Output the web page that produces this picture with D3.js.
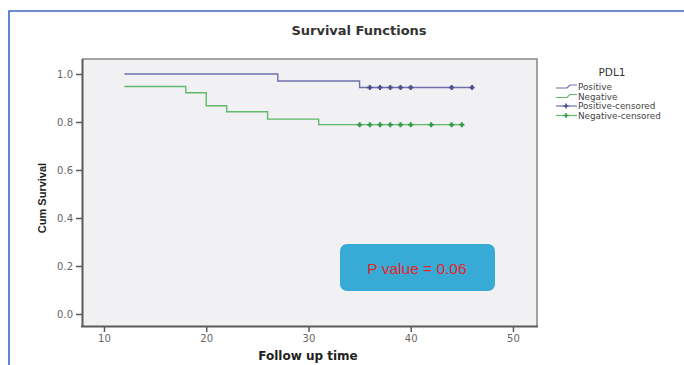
<!DOCTYPE html>
<html><head><meta charset="utf-8">
<script src="https://cdn.jsdelivr.net/npm/d3@7"></script>
<style>body{margin:0;background:#fff;}svg{display:block;font-family:"Liberation Sans",Arial,sans-serif;}</style>
</head><body>
<script>
// ---- data ----
const xTickValues = [10, 20, 30, 40, 50];
const yTickValues = [0, 0.2, 0.4, 0.6, 0.8, 1.0];
const posTimes = [12, 27, 35];
const posSurv = [1.0, 0.971, 0.944];
const posEndTime = 46;
const negTimes = [12, 18, 20, 22, 26, 31];
const negSurv = [0.948, 0.922, 0.868, 0.843, 0.812, 0.789];
const negEndTime = 45;
const posCensored = [36, 37, 38, 39, 40, 44, 46];
const negCensored = [35, 36, 37, 38, 39, 40, 42, 44, 45];
const legendLabels = ["Positive", "Negative", "Positive-censored", "Negative-censored"];
const pValueText = "P value = 0.06";

const W = 684, H = 365;
const posColor = "#6f6fae", negColor = "#62b86a";
const posMark = "#4b4b8c", negMark = "#2f9a48";

const svg = d3.select("body").append("svg").attr("width", W).attr("height", H);

// outer blue frame
svg.append("path").attr("d", `M9,${H+2} L9,11 L${W+2},11`).attr("fill","none")
  .attr("stroke","#3d66c2").attr("stroke-width",1.6);

const x = d3.scaleLinear().domain([7.85, 52.35]).range([82, 537]);
const y = d3.scaleLinear().domain([-0.05, 1.0625]).range([326, 59]);

// plot background
svg.append("rect").attr("x", x.range()[0]).attr("y", y.range()[1])
  .attr("width", x.range()[1]-x.range()[0]).attr("height", y.range()[0]-y.range()[1])
  .attr("fill","#f1f1f3");
// top/right border
svg.append("path").attr("d",`M${x.range()[0]},${y.range()[1]} H${x.range()[1]} V${y.range()[0]}`)
  .attr("fill","none").attr("stroke","#8a8a8a").attr("stroke-width",1.6);

// axes
const xAxis = d3.axisBottom(x).tickValues(xTickValues).tickSize(6).tickSizeOuter(0).tickPadding(3).tickFormat(d3.format("d"));
const gx = svg.append("g").attr("transform",`translate(0,${y.range()[0]})`).call(xAxis);
const yAxis = d3.axisLeft(y).tickValues(yTickValues).tickSize(6).tickSizeOuter(0).tickPadding(3).tickFormat(d3.format(".1f"));
const gy = svg.append("g").attr("transform",`translate(${x.range()[0]},0)`).call(yAxis);
[gx, gy].forEach(g => {
  g.select(".domain").attr("stroke","#5a5a5a").attr("stroke-width",2);
  g.selectAll(".tick line").attr("stroke","#5a5a5a").attr("stroke-width",1.5);
  g.selectAll(".tick text").attr("fill","#666").style("font-size","10px").style("font-family","'DejaVu Sans',sans-serif");
});
gx.select(".domain").attr("d", `M${x.range()[0]-1},0.5H${x.range()[1]+1}`);
gy.select(".domain").attr("d", `M0.5,${y.range()[1]}V${y.range()[0]+1}`);

// titles
svg.append("text").attr("x",359).attr("y",35).attr("text-anchor","middle")
  .style("font-family","'DejaVu Sans',sans-serif")
  .style("font-size","13px").style("font-weight","bold").attr("fill","#333").text("Survival Functions");
svg.append("text").attr("x",308).attr("y",360).attr("text-anchor","middle")
  .style("font-family","'DejaVu Sans',sans-serif")
  .style("font-size","12px").style("font-weight","bold").attr("fill","#222").text("Follow up time");
svg.append("text").attr("transform","translate(46,198) rotate(-90)").attr("text-anchor","middle")
  .style("font-size","11px").style("font-weight","bold").attr("fill","#222").text("Cum Survival");

// step curves
function stepPath(times, surv, endT) {
  const pts = times.map((t,i)=>[t, surv[i]]);
  pts.push([endT, surv[surv.length-1]]);
  return d3.line().x(d=>x(d[0])).y(d=>y(d[1])).curve(d3.curveStepAfter)(pts);
}
svg.append("path").attr("d", stepPath(posTimes,posSurv,posEndTime)).attr("fill","none")
  .attr("stroke",posColor).attr("stroke-width",1.4);
svg.append("path").attr("d", stepPath(negTimes,negSurv,negEndTime)).attr("fill","none")
  .attr("stroke",negColor).attr("stroke-width",1.4);

function survAt(times, surv, t){ let v = surv[0]; times.forEach((tt,i)=>{ if (t>=tt) v = surv[i]; }); return v; }
function plus(cx, cy, s){ return `M${cx-s},${cy}H${cx+s}M${cx},${cy-s}V${cy+s}`; }
svg.append("g").selectAll("path").data(posCensored).join("path")
  .attr("d", d=>plus(x(d), y(survAt(posTimes,posSurv,d)), 2.5))
  .attr("stroke",posMark).attr("stroke-width",2).attr("fill","none");
svg.append("g").selectAll("path").data(negCensored).join("path")
  .attr("d", d=>plus(x(d), y(survAt(negTimes,negSurv,d)), 2.5))
  .attr("stroke",negMark).attr("stroke-width",2).attr("fill","none");

// legend
svg.append("text").attr("x",612).attr("y",76).attr("text-anchor","middle")
  .style("font-family","'DejaVu Sans',sans-serif")
  .style("font-size","10.5px").attr("fill","#333").text("PDL1");
const legY = [87, 96.5, 106, 115.5];
const lg = svg.append("g");
legendLabels.forEach((lab,i)=>{
  const yy = legY[i];
  const col = (i%2===0) ? posColor : negColor;
  if (i < 2) {
    lg.append("path").attr("d",`M556,${yy+1} H567 L570,${yy-2} H577`).attr("fill","none")
      .attr("stroke",col).attr("stroke-width",1.2);
  } else {
    lg.append("path").attr("d",`M556,${yy} H577`).attr("stroke",col).attr("stroke-width",1.2);
    lg.append("path").attr("d",plus(566,yy,2.5)).attr("stroke",i===2?posMark:negMark).attr("stroke-width",1.5);
  }
  lg.append("text").attr("x",578).attr("y",yy+3).style("font-family","'DejaVu Sans',sans-serif")
    .style("font-size","8.8px").attr("fill","#444").text(lab);
});

// p-value box
svg.append("rect").attr("x",340).attr("y",244).attr("width",155).attr("height",47).attr("rx",7)
  .attr("fill","#38aad6");
svg.append("text").attr("x",417).attr("y",273.5).attr("text-anchor","middle")
  .style("font-size","15.5px").attr("fill","#e3262a").text(pValueText);
</script>
</body></html>
